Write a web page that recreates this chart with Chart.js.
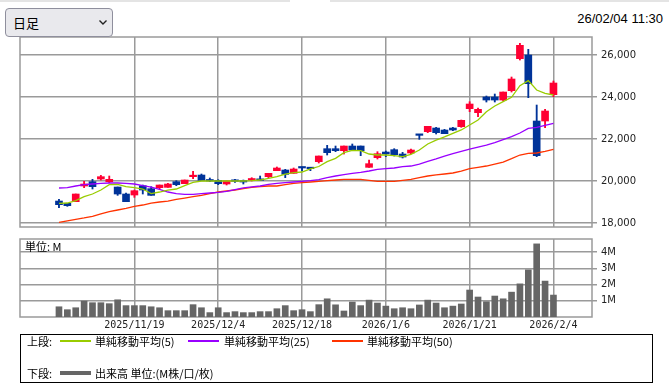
<!DOCTYPE html>
<html>
<head>
<meta charset="utf-8">
<script src="https://cdn.jsdelivr.net/npm/chart.js@4.4.1/dist/chart.umd.min.js"></script>
<style>
  html, body { margin: 0; padding: 0; background: #fff; }
  body { position: relative; width: 669px; height: 384px; overflow: hidden; font-family: 'Noto Sans CJK JP', sans-serif; color: #000; }
  .abs { position: absolute; }
  #bar1 { left: 0; top: 0; width: 290px; height: 2px; background: #e4e4e4; }
  #bar2 { left: 330px; top: 0; width: 339px; height: 2px; background: #e4e4e4; }
  #period { left: 5px; top: 8px; width: 108px; height: 29px; box-sizing: border-box; border: 1px solid #8f8f9d; border-radius: 4px; background: #e9e9ed; z-index: 3; }
  #period span { position: absolute; left: 7px; top: 5px; font-size: 13px; line-height: 17px; }
  #period svg { position: absolute; left: 93px; top: 11px; }
  #stamp { right: 6px; top: 11px; font: 13px 'Liberation Sans', Arial, sans-serif; }
  canvas { position: absolute; left: 0; }
  #priceChart { top: 0; }
  #volChart { top: 225px; }
  #unit { left: 25px; top: 240px; font-size: 11px; line-height: 13px; }
  #legend { left: 20px; top: 334px; width: 633px; height: 49px; box-sizing: border-box; border: 1px solid #000; }
  .lg { position: absolute; font-size: 11px; line-height: 14px; white-space: nowrap; }
  .sw { position: absolute; }
</style>
</head>
<body>
<div class="abs" id="bar1"></div>
<div class="abs" id="bar2"></div>
<div class="abs" id="period"><span>日足</span>
  <svg width="8" height="5" viewBox="0 0 8 5"><polyline points="0.5,0.5 4,4 7.5,0.5" fill="none" stroke="#222" stroke-width="1.4"/></svg>
</div>
<div class="abs" id="stamp">26/02/04 11:30</div>

<canvas id="priceChart" width="669" height="240"></canvas>
<canvas id="volChart" width="669" height="109"></canvas>
<div class="abs" id="unit">単位: M</div>

<div class="abs" id="legend"></div>
<div class="lg" style="left:27px; top:334px;">上段:</div>
<div class="sw" style="left:60px; top:340px; width:31px; height:1.5px; background:#99cc00;"></div>
<div class="lg" style="left:95px; top:334px;">単純移動平均(5)</div>
<div class="sw" style="left:188px; top:340px; width:31px; height:1.5px; background:#9900ff;"></div>
<div class="lg" style="left:224px; top:334px;">単純移動平均(25)</div>
<div class="sw" style="left:332px; top:340px; width:31px; height:1.5px; background:#ff3300;"></div>
<div class="lg" style="left:367px; top:334px;">単純移動平均(50)</div>
<div class="lg" style="left:27px; top:366px;">下段:</div>
<div class="sw" style="left:60px; top:371px; width:31px; height:4px; background:#666;"></div>
<div class="lg" style="left:95px; top:366px;">出来高 単位:(M株/口/枚)</div>

<script>
// 日足 (2025/11/6 - 2026/2/4)
const days = [
  '2025/11/6','2025/11/7','2025/11/10','2025/11/11','2025/11/12','2025/11/13','2025/11/14','2025/11/17','2025/11/18','2025/11/19',
  '2025/11/20','2025/11/21','2025/11/25','2025/11/26','2025/11/27','2025/11/28','2025/12/1','2025/12/2','2025/12/3','2025/12/4',
  '2025/12/5','2025/12/8','2025/12/9','2025/12/10','2025/12/11','2025/12/12','2025/12/15','2025/12/16','2025/12/17','2025/12/18',
  '2025/12/19','2025/12/22','2025/12/23','2025/12/24','2025/12/25','2025/12/26','2025/12/29','2025/12/30','2026/1/5','2026/1/6',
  '2026/1/7','2026/1/8','2026/1/9','2026/1/13','2026/1/14','2026/1/15','2026/1/16','2026/1/19','2026/1/20','2026/1/21',
  '2026/1/22','2026/1/23','2026/1/26','2026/1/27','2026/1/28','2026/1/29','2026/1/30','2026/2/2','2026/2/3','2026/2/4'
];
const labelDays = ['2025/11/19', '2025/12/4', '2025/12/18', '2026/1/6', '2026/1/21', '2026/2/4'];

const openPx = [
  19047,18936,19016,19762,19968,20095,19968,19714,19381,19333,
  19777,19635,19682,19698,19968,19873,20206,20285,20031,20031,
  19857,20016,20000,20047,20095,20206,20492,20524,20365,20667,
  20635,20920,21539,21539,21444,21666,21666,20651,21111,21380,
  21492,21285,21333,22222,22349,22523,22428,22523,22587,23444,
  23254,24000,24000,23856,24301,25825,25999,22857,22857,24110
];
const highPx = [
  19127,18936,19381,19984,20079,20269,20238,19714,19428,19571,
  19809,19730,19809,19889,20016,20047,20460,20333,20143,20063,
  20000,20079,20047,20158,20238,20365,20667,20555,20619,20667,
  20635,21190,21698,21666,21666,21762,21666,21000,21396,21428,
  21539,21364,21523,22222,22603,22555,22460,22555,22904,23777,
  23475,24047,24142,24237,24952,26555,26269,23618,23412,24761
];
const lowPx = [
  18730,18794,19016,19682,19619,20047,19920,19317,19016,19222,
  19381,19317,19619,19698,19777,19873,20111,20031,19968,19825,
  19809,19936,19857,20000,20031,20158,20492,20158,20365,20476,
  20492,20857,21238,21396,21285,21476,21206,20651,21047,21158,
  21190,21095,21301,21984,22301,22238,22254,22396,22555,23301,
  23063,23761,23761,23809,24237,25761,23967,21158,22539,24015
];
const closePx = [
  18873,18825,19381,19857,19730,20206,20079,19381,19016,19539,
  19571,19317,19809,19857,19825,20047,20269,20031,20000,19873,
  20000,19984,19952,20095,20031,20365,20619,20317,20571,20619,
  20587,21190,21349,21444,21666,21476,21444,20825,21301,21285,
  21254,21143,21476,22174,22603,22301,22254,22428,22888,23666,
  23412,23856,23856,24237,24857,26460,24634,21206,23333,24666
];

// 単純移動平均
const ma5 = [
  18936,18952,19063,19254,19381,19571,19825,19841,19730,19682,
  19619,19397,19476,19571,19619,19777,19936,20000,20000,20000,
  20000,20000,20000,20016,20047,20127,20206,20333,20396,20428,
  20580,20690,20920,21080,21349,21460,21444,21285,21238,21238,
  21206,21158,21269,21476,21762,21950,22100,22270,22430,22666,
  22904,23301,23571,23777,23983,24539,24777,24333,24174,24095
];
const ma25 = [
  19666,19682,19762,19825,19857,19889,19904,19904,19889,19857,
  19777,19714,19603,19476,19397,19365,19365,19397,19428,19460,
  19510,19590,19670,19720,19762,19841,19889,19920,19952,19984,
  20016,20063,20158,20238,20301,20365,20412,20476,20555,20587,
  20619,20682,20714,20809,20930,21050,21190,21301,21412,21523,
  21618,21714,21825,21968,22111,22285,22507,22555,22650,22745
];
const ma50 = [
  18032,18100,18170,18240,18320,18430,18540,18620,18700,18790,
  18857,18952,19000,19047,19127,19190,19254,19317,19397,19476,
  19524,19571,19635,19698,19730,19762,19762,19825,19889,19920,
  19952,19984,20016,20047,20079,20079,20079,20031,19984,19984,
  19984,20031,20079,20158,20238,20290,20333,20381,20476,20587,
  20651,20714,20809,20904,21063,21238,21317,21333,21412,21507
];

// 出来高 (M)
const volume = [
  0.63,0.45,0.57,0.98,0.88,0.88,0.82,1.06,0.70,0.70,
  0.70,0.63,0.57,0.39,0.39,0.39,0.76,0.57,0.27,0.57,
  0.27,0.33,0.27,0.27,0.33,0.33,0.51,0.70,0.39,0.45,
  0.33,0.76,1.12,0.75,0.37,0.92,0.70,1.04,0.86,0.67,
  0.51,0.57,0.51,0.74,1.04,0.86,0.57,0.67,0.80,1.66,
  1.23,0.94,1.29,1.12,1.53,2.04,2.90,4.50,2.21,1.35
];

const priceTicks = [18000, 20000, 22000, 24000, 26000];
const volumeTicks = [1, 2, 3, 4];

const UP = '#ff0033';
const DOWN = '#003399';
const GRID = '#9a9a9a';
const X_MIN = -4.65;
const X_MAX = 63.6;
const dateIdx = labelDays.map(d => days.indexOf(d));

Chart.defaults.font.family = 'DejaVu Sans';
Chart.defaults.color = '#222';

// 枠線
const frame = {
  id: 'frame',
  beforeDatasetsDraw(chart) {
    const { ctx, chartArea: a } = chart;
    ctx.save();
    ctx.strokeStyle = GRID;
    ctx.lineWidth = 1.5;
    ctx.strokeRect(a.left, a.top, a.right - a.left, a.bottom - a.top);
    ctx.restore();
  }
};

const candleColor = ctx => (closePx[ctx.dataIndex] >= openPx[ctx.dataIndex] ? UP : DOWN);
const toPoints = arr => arr.map((v, i) => ({ x: i, y: v }));

function dateAxis(showLabels, height) {
  return {
    type: 'linear',
    min: X_MIN,
    max: X_MAX,
    offset: false,
    afterBuildTicks: s => { s.ticks = dateIdx.map(v => ({ value: v })); },
    afterFit: s => { s.height = height; },
    ticks: {
      display: showLabels,
      autoSkip: false,
      maxRotation: 0,
      padding: 2,
      font: { family: 'DejaVu Sans Mono', size: 10 },
      callback: v => days[v]
    },
    grid: { color: GRID, lineWidth: 1.5, drawTicks: false, offset: false },
    border: { display: false }
  };
}

function valueAxis(min, max, ticks, fmt) {
  return {
    position: 'right',
    min,
    max,
    afterBuildTicks: s => { s.ticks = ticks.map(v => ({ value: v })); },
    afterFit: s => { s.width = 77; },
    ticks: { padding: 4, font: { size: 10 }, callback: fmt },
    grid: { color: GRID, lineWidth: 1.5, tickLength: 5 },
    border: { display: false }
  };
}

new Chart(document.getElementById('priceChart'), {
  type: 'bar',
  data: {
    datasets: [
      { type: 'line', data: toPoints(ma5), borderColor: '#99cc00', borderWidth: 1.3, pointRadius: 0, order: 0 },
      { type: 'line', data: toPoints(ma25), borderColor: '#9900ff', borderWidth: 1.3, pointRadius: 0, order: 0 },
      { type: 'line', data: toPoints(ma50), borderColor: '#ff3300', borderWidth: 1.3, pointRadius: 0, order: 0 },
      {
        data: openPx.map((o, i) => ({ x: i, y: [o, closePx[i]] })),
        backgroundColor: candleColor,
        barThickness: 7,
        minBarLength: 1.5,
        grouped: false,
        order: 1
      },
      {
        data: lowPx.map((l, i) => ({ x: i, y: [l, highPx[i]] })),
        backgroundColor: candleColor,
        barThickness: 1.2,
        grouped: false,
        order: 2
      }
    ]
  },
  options: {
    responsive: false,
    animation: false,
    layout: { padding: { left: 20, top: 37, right: 0, bottom: 13 } },
    plugins: { legend: { display: false }, tooltip: { enabled: false } },
    scales: {
      x: dateAxis(false, 0),
      y: valueAxis(17810, 26857, priceTicks, v => v.toLocaleString('en-US'))
    }
  },
  plugins: [frame]
});

new Chart(document.getElementById('volChart'), {
  type: 'bar',
  data: {
    datasets: [{
      data: toPoints(volume),
      backgroundColor: '#666666',
      barThickness: 6
    }]
  },
  options: {
    responsive: false,
    animation: false,
    layout: { padding: { left: 20, top: 14, right: 0, bottom: 0 } },
    plugins: { legend: { display: false }, tooltip: { enabled: false } },
    scales: {
      x: dateAxis(true, 17),
      y: valueAxis(0, 4.8, volumeTicks, v => v + 'M')
    }
  },
  plugins: [frame]
});
</script>
</body>
</html>
